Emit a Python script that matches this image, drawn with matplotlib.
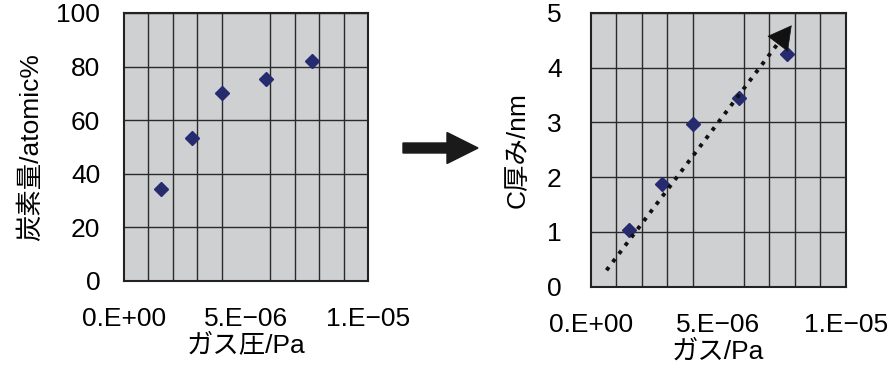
import matplotlib
matplotlib.use('Agg')
import matplotlib.pyplot as plt
from matplotlib.patches import FancyArrow

plt.rcParams['font.family'] = ['Liberation Sans', 'Noto Sans CJK JP']

# gas pressure (Pa), shared by both panels
gas_pressure = [1.5e-6, 2.8e-6, 4.0e-6, 5.8e-6, 7.7e-6]
# left panel: carbon content (atomic%)
carbon_content = [34.5, 53.2, 70.2, 75.4, 82.1]
# right panel: C thickness (nm)
c_thickness = [1.03, 1.87, 2.97, 3.45, 4.24]
# hand-drawn trend arrow on the right panel (start, end)
trend_x = [0.62e-6, 7.87e-6]
trend_y = [0.30, 4.77]

x_ticks = [0, 5e-6, 1e-5]
x_ticklabels = ['0.E+00', '5.E\u221206', '1.E\u221205']
x_grid = [i * 1e-6 for i in range(11)]

bg = '#cfd0d2'
marker_col = '#262a6e'
fs = 19

fig = plt.figure(figsize=(8.9, 3.76), dpi=100)
ax1 = fig.add_axes([0.1393, 0.2527, 0.2742, 0.7128])
ax2 = fig.add_axes([0.6637, 0.2375, 0.2869, 0.7287])


def style_axes(ax, ymax, ystep):
    ax.set_facecolor(bg)
    ax.set_xlim(0, 1e-5)
    ax.set_ylim(0, ymax)
    ax.set_xticks(x_ticks)
    ax.set_xticklabels(x_ticklabels)
    ax.set_xticks(x_grid, minor=True)
    ax.set_yticks([ystep * i for i in range(int(round(ymax / ystep)) + 1)])
    ax.grid(True, which='minor', axis='x', color='#2a2a2a', lw=1.0)
    ax.grid(True, which='major', axis='y', color='#2a2a2a', lw=1.0)
    ax.tick_params(which='both', length=0, labelsize=fs)
    ax.tick_params(axis='x', pad=19)
    for s in ax.spines.values():
        s.set_color('#222222')
        s.set_linewidth(1.5)
    ax.set_axisbelow(True)


style_axes(ax1, 100, 20)
ax1.tick_params(axis='y', pad=17)
ax1.plot(gas_pressure, carbon_content, 'D', color=marker_col, ms=7.5, zorder=3)
ax1.set_xlabel('ガス圧/Pa', fontsize=fs, labelpad=2)
ax1.set_ylabel('炭素量/atomic%', fontsize=fs, labelpad=10)

style_axes(ax2, 5, 1)
ax2.tick_params(axis='y', pad=21)
ax2.plot(gas_pressure, c_thickness, 'D', color=marker_col, ms=7.5, zorder=3)
# dotted trend line ending at the base of a solid arrow head
frac = 0.93
base_x = trend_x[0] + frac * (trend_x[1] - trend_x[0])
base_y = trend_y[0] + frac * (trend_y[1] - trend_y[0])
ax2.plot([trend_x[0], base_x], [trend_y[0], base_y], linestyle=':',
         color='#111111', lw=2.8, zorder=4)
ax2.annotate('', xy=(trend_x[1], trend_y[1]), xytext=(base_x, base_y),
             arrowprops=dict(arrowstyle='-|>,head_length=1.0,head_width=0.55',
                             color='#111111', lw=0.5, mutation_scale=16,
                             shrinkA=0, shrinkB=0),
             zorder=5)
ax2.set_xlabel('ガス/Pa', fontsize=fs, labelpad=2)
ax2.set_ylabel('C厚み/nm', fontsize=fs, labelpad=12)

# big arrow between the two panels
fig.patches.append(FancyArrow(4.03, 2.28, 0.75, 0, width=0.10, head_width=0.31,
                              head_length=0.31, length_includes_head=True,
                              color='#1a1a1a', transform=fig.dpi_scale_trans,
                              figure=fig))

plt.savefig('out.png', dpi=100)
